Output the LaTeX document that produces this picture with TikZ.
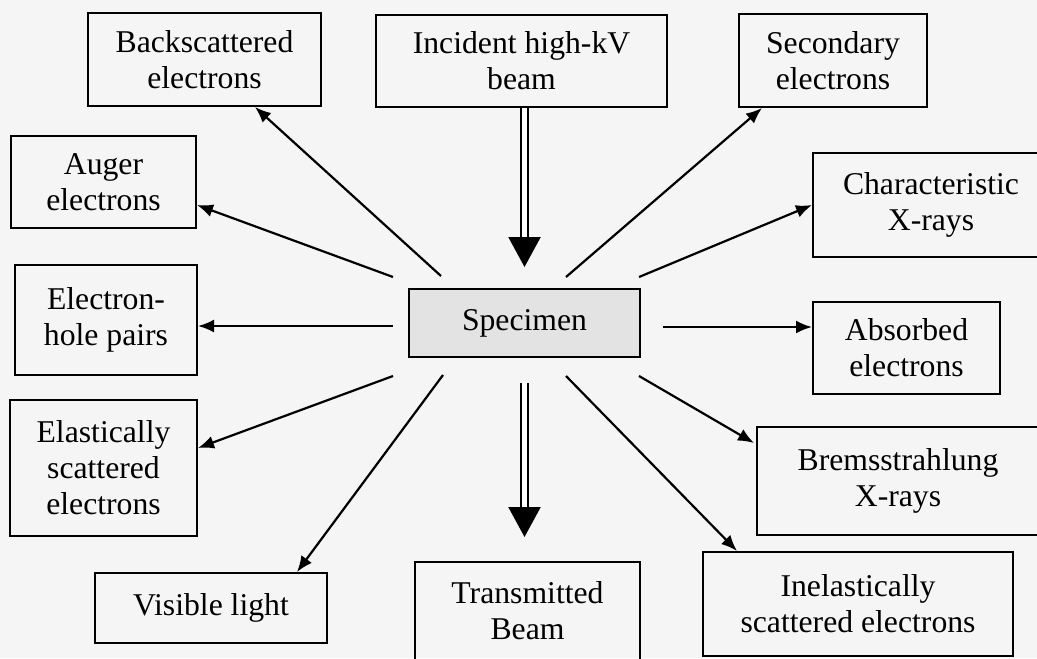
\documentclass[tikz,border=0pt]{standalone}
\usepackage{fontspec}
\setmainfont{Liberation Serif}
\usetikzlibrary{arrows.meta}
\begin{document}
\begin{tikzpicture}[x=0.5pt,y=-0.5pt,
    >={Latex[length=8pt,width=6.5pt]},
    box/.style={draw,line width=1pt,align=center,inner sep=0pt,
      font=\fontsize{15.85}{18}\selectfont},
    ray/.style={->,line width=1.1pt},
    beam/.style={double,double distance=2.6pt,line width=1.1pt,
      -{Triangle[length=15pt,width=16pt]}}]
  \useasboundingbox[fill=black!4] (0,0) rectangle (1037,658);
  \clip (0,0) rectangle (1037,658);
  %
  \node[box,fill=black!11,minimum width=115.5pt,minimum height=34pt] (spec) at (524.5,323) {Specimen};
  %
  \node[box,minimum width=116.5pt,minimum height=46.5pt] (back) at (204.5,59.5) {Backscattered\\electrons};
  \node[box,minimum width=145.5pt,minimum height=46pt] (incid) at (521.5,61) {Incident high-kV\\beam};
  \node[box,minimum width=94pt,minimum height=46.5pt] (second) at (833,60.5) {Secondary\\electrons};
  \node[box,minimum width=92.5pt,minimum height=46pt] (auger) at (103.5,182) {Auger\\electrons};
  \node[box,minimum width=118pt,minimum height=52pt] (charact) at (931,205) {Characteristic\\X-rays};
  \node[box,minimum width=91pt,minimum height=55pt] (ehole) at (106,320) {Electron-\\hole pairs};
  \node[box,minimum width=93.5pt,minimum height=46pt] (absorb) at (906.5,348) {Absorbed\\electrons};
  \node[box,minimum width=93.5pt,minimum height=68pt] (elastic) at (103.5,468) {Elastically\\scattered\\electrons};
  \node[box,minimum width=141pt,minimum height=54pt] (brems) at (898,481) {Bremsstrahlung\\X-rays};
  \node[box,minimum width=116pt,minimum height=35pt] (visible) at (211,608) {Visible light};
  \node[box,minimum width=112.5pt,minimum height=49pt] (transm) at (527.5,611) {Transmitted\\Beam};
  \node[box,minimum width=155pt,minimum height=52pt] (inelast) at (858,604) {Inelastically\\scattered electrons};
  %
  % start points round the specimen
  \coordinate (s1) at (441,276);
  \coordinate (s2) at (566,277);
  \coordinate (s3) at (639,277);
  \coordinate (s4) at (393,277);
  \coordinate (s5) at (393,326);
  \coordinate (s6) at (663,327);
  \coordinate (s7) at (393,376);
  \coordinate (s8) at (443,375);
  \coordinate (s9) at (639,376);
  \coordinate (s10) at (566,376);
  %
  \draw[ray] (s1) -- ([xshift=25.25pt]back.south);
  \draw[ray] (s2) -- ([xshift=-35.5pt]second.south);
  \draw[ray] (s3) -- (charact.west);
  \draw[ray] (s4) -- ([yshift=-11.5pt]auger.east);
  \draw[ray] (s5) -- (ehole.east |- s5);
  \draw[ray] (s6) -- (absorb.west |- s6);
  \draw[ray] (s7) -- ([yshift=10pt]elastic.east);
  \draw[ray] (s8) -- ([xshift=43pt]visible.north);
  \draw[ray] (s9) -- ([yshift=19pt,xshift=-1pt]brems.west);
  \draw[ray] (s10) -- ([xshift=-60.5pt]inelast.north);
  %
  \draw[beam,shorten >=10.5pt] (incid.south -| spec.north) -- (spec.north);
  \draw[beam,shorten <=12.5pt,shorten >=12pt] (spec.south) -- (transm.north -| spec.south);
\end{tikzpicture}
\end{document}
